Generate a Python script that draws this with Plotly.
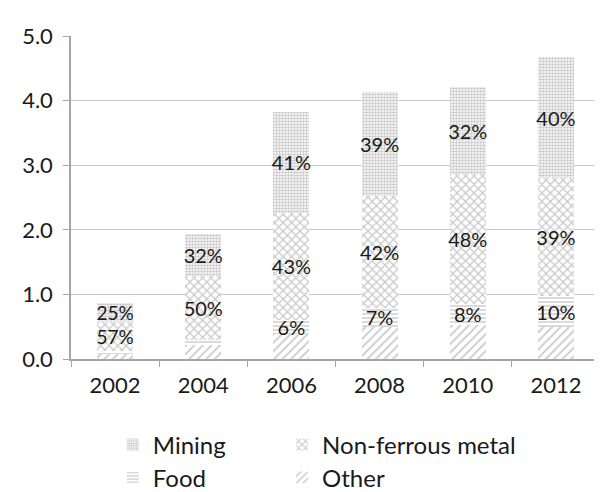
import plotly.graph_objects as go

years = ["2002", "2004", "2006", "2008", "2010", "2012"]
other = [0.08, 0.22, 0.38, 0.50, 0.53, 0.50]
food = [0.04, 0.08, 0.23, 0.29, 0.32, 0.47]
nonferrous = [0.46, 0.99, 1.65, 1.73, 2.01, 1.83]
mining = [0.28, 0.64, 1.57, 1.61, 1.35, 1.87]

food_labels = ["", "", "6%", "7%", "8%", "10%"]
nonferrous_labels = ["57%", "50%", "43%", "42%", "48%", "39%"]
mining_labels = ["25%", "32%", "41%", "39%", "32%", "40%"]

ytick_vals = [0, 1, 2, 3, 4, 5]

FONT = "Lato, 'Open Sans', sans-serif"
GRAY = "#949494"
TXT = "#1a1a1a"
label_sizes = [19, 20, 20, 20, 20, 20]

fig = go.Figure()

def add(name, vals, labels, shape, size, solidity, legend):
    fig.add_trace(go.Bar(
        x=years, y=vals, name=name,
        text=labels if labels else None,
        textposition="inside" if labels else "none",
        insidetextanchor="middle",
        constraintext="none",
        textangle=0,
        textfont=dict(family=FONT, size=label_sizes, color=TXT),
        marker=dict(color="white", line=dict(width=0),
                    pattern=dict(shape=shape, fgcolor=GRAY, bgcolor="white",
                                 size=size, solidity=solidity)),
        legend=legend,
        hoverinfo="x+y+name",
    ))

add("Other", other, None, "/", 6, 0.3, "legend4")
add("Food", food, food_labels, "-", 4, 0.35, "legend3")
add("Non-ferrous metal", nonferrous, nonferrous_labels, "x", 6, 0.38, "legend2")
add("Mining", mining, mining_labels, ".", 3, 0.55, "legend")

lc = dict(orientation="v", yanchor="middle", traceorder="normal",
          font=dict(family=FONT, size=24, color=TXT),
          bgcolor="rgba(0,0,0,0)")

fig.update_layout(
    width=594, height=484,
    margin=dict(l=63, r=2, t=28, b=133, autoexpand=False),
    barmode="stack",
    bargap=0.59,
    paper_bgcolor="white", plot_bgcolor="white",
    font=dict(family=FONT, size=22, color=TXT),
    xaxis=dict(
        type="category", showgrid=False,
        showline=True, linecolor="#a6a6a6", linewidth=1.5,
        ticks="outside", tickson="boundaries", ticklen=6, tickcolor="#a6a6a6",
        ticklabelstandoff=6,
        tickfont=dict(family=FONT, size=22, color=TXT),
    ),
    yaxis=dict(
        range=[0, 5], tickvals=ytick_vals, tickformat=".1f",
        showgrid=True, gridcolor="#c8c8c8", gridwidth=1.2,
        showline=True, linecolor="#a6a6a6", linewidth=1.5,
        ticks="outside", ticklen=6, tickcolor="#a6a6a6",
        ticklabelstandoff=6,
        tickfont=dict(family=FONT, size=22, color=TXT),
        zeroline=False,
    ),
    legend=dict(x=0.079, y=-0.266, **lc),
    legend2=dict(x=0.399, y=-0.266, **lc),
    legend3=dict(x=0.079, y=-0.368, **lc),
    legend4=dict(x=0.399, y=-0.368, **lc),
    showlegend=True,
)

fig.write_html("out.html")
